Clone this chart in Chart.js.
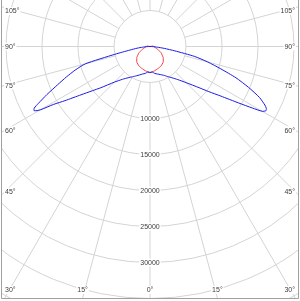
<!DOCTYPE html>
<html>
<head>
<title>Polar light distribution</title>
<style>
html, body { margin:0; padding:0; background:#fff; }
#wrap { width:300px; height:301px; }
</style>
</head>
<body>
<div id="wrap"><canvas id="chartPolar" width="300" height="301"></canvas></div>
<script src="https://cdn.jsdelivr.net/npm/chart.js@4.4.0/dist/chart.umd.min.js"></script>
<script>
// C0-C180 plane (blue), angle from nadir, negative = left side, values in cd
const blueAngles = [-90, -87.5, -85, -82.5, -80, -77.5, -75, -72.5, -70, -67.5, -65, -63, -62, -61, -60, -59, -57.5, -55, -52.5, -50, -45, -40, -35, -30, -25, -20, -15, -10, -5,
  0, 5, 10, 15, 20, 25, 30, 35, 40, 45, 50, 52.5, 55, 57.5, 59, 60, 61, 62, 63, 65, 67.5, 70, 72.5, 75, 77.5, 80, 82.5, 85, 87.5, 90];
const blueValues = [0, 400, 1000, 1800, 2800, 5000, 9300, 10900, 12350, 13900, 15800, 17400, 18200, 18400, 17600, 15600, 14000, 11700, 10100, 8900, 7000, 5950, 5300, 4850, 4500, 4200, 3950, 3800, 3550,
  3600, 3550, 3800, 3950, 4150, 4400, 4800, 5300, 6000, 7100, 8900, 10300, 12000, 14600, 16600, 18000, 18400, 18300, 17900, 16800, 14800, 12700, 10300, 8300, 6300, 3500, 2000, 1000, 400, 0];

// C90-C270 plane (red)
const redAngles = [-110, -100, -95, -90, -80, -70, -62.5, -60, -50, -40, -30, -20, -10, 0, 10, 20, 30, 40, 50, 60, 62.5, 70, 80, 90, 95, 100, 110];
const redValues = [0, 380, 470, 520, 700, 1150, 1570, 1800, 2400, 2850, 3100, 3260, 3450, 3650, 3450, 3260, 3100, 2850, 2400, 1800, 1570, 1150, 700, 520, 470, 380, 0];

// grid
const ringValues = [5000, 10000, 15000, 20000, 25000, 30000, 35000, 40000, 45000];
const ringLabels = ['10000', '15000', '20000', '25000', '30000'];
const angleLabels = [0, 15, 30, 45, 60, 75, 90, 105];

const K = 5000 / 36;   // cd per pixel
const CY = 46.5;       // centre row

function toXY(angles, values) {
  return angles.map(function(a, i) {
    const r = a * Math.PI / 180;
    return { x: values[i] * Math.sin(r), y: -values[i] * Math.cos(r) };
  });
}

const polarGrid = {
  id: 'polarGrid',
  beforeDatasetsDraw: function(chart) {
    const ctx = chart.ctx;
    const xs = chart.scales.x, ys = chart.scales.y;
    const cx = xs.getPixelForValue(0), cy = ys.getPixelForValue(0);
    const px = function(v) { return xs.getPixelForValue(v) - cx; };
    ctx.save();
    ctx.strokeStyle = '#d4d4d4';
    ctx.lineWidth = 1;
    ringValues.forEach(function(v) {
      ctx.beginPath();
      ctx.arc(cx, cy, px(v), 0, Math.PI * 2);
      ctx.stroke();
    });
    const r0 = px(ringValues[0]);
    for (let a = 0; a < 360; a += 15) {
      const t = a * Math.PI / 180;
      ctx.beginPath();
      ctx.moveTo(cx + r0 * Math.sin(t), cy + r0 * Math.cos(t));
      ctx.lineTo(cx + 450 * Math.sin(t), cy + 450 * Math.cos(t));
      ctx.stroke();
    }
    ctx.font = '7px "Liberation Sans", Arial, sans-serif';
    ctx.textBaseline = 'middle';
    ctx.textAlign = 'left';
    ringLabels.forEach(function(s) {
      const y = cy + px(Number(s));
      const w = ctx.measureText(s).width;
      ctx.fillStyle = '#fff';
      ctx.fillRect(cx - w / 2 - 1, y - 4, w + 2, 8);
      ctx.fillStyle = '#404040';
      ctx.fillText(s, cx - w / 2, y + 0.5);
    });
    angleLabels.forEach(function(a) {
      [-1, 1].forEach(function(s) {
        if (a === 0 && s < 0) return;
        const txt = a + '\u00B0';
        const w = ctx.measureText(txt).width;
        const t = a * Math.PI / 180;
        let x, y;
        if (a <= 30) {
          x = cx + s * (298 - cy) * Math.tan(t) - w / 2;
          y = 290;
        } else {
          y = Math.max(11, cy + 145 / Math.tan(t));
          x = s < 0 ? 5 : 295 - w;
        }
        x = Math.min(295 - w, Math.max(5, x));
        ctx.fillStyle = '#fff';
        ctx.fillRect(x - 1, y - 4, w + 2, 8);
        ctx.fillStyle = '#404040';
        ctx.fillText(txt, x, y + 0.5);
      });
    });
    ctx.restore();
  },
  afterDraw: function(chart) {
    const ctx = chart.ctx;
    ctx.save();
    ctx.fillStyle = '#fff';
    ctx.fillRect(0, 0, 1, 301);
    ctx.fillRect(299, 0, 1, 301);
    ctx.fillRect(0, 299, 300, 2);
    ctx.strokeStyle = '#a0a0a0';
    ctx.lineWidth = 1;
    ctx.beginPath();
    ctx.moveTo(1.5, 0); ctx.lineTo(1.5, 298.5); ctx.lineTo(298.5, 298.5); ctx.lineTo(298.5, 0);
    ctx.stroke();
    ctx.restore();
  }
};

new Chart(document.getElementById('chartPolar').getContext('2d'), {
  type: 'scatter',
  data: {
    datasets: [{
      label: 'C0-C180',
      data: toXY(blueAngles, blueValues),
      showLine: true,
      borderColor: '#1a1ae6',
      borderWidth: 1,
      pointRadius: 0,
      tension: 0.2
    }, {
      label: 'C90-C270',
      data: toXY(redAngles, redValues),
      showLine: true,
      borderColor: '#f03a3a',
      borderWidth: 1,
      pointRadius: 0,
      tension: 0.05
    }]
  },
  options: {
    responsive: false,
    animation: false,
    layout: { padding: 0 },
    plugins: { legend: { display: false }, tooltip: { enabled: false } },
    scales: {
      x: { type: 'linear', display: false, min: -150 * K, max: 150 * K },
      y: { type: 'linear', display: false, min: -(301 - CY) * K, max: CY * K }
    }
  },
  plugins: [polarGrid]
});
</script>
</body>
</html>
